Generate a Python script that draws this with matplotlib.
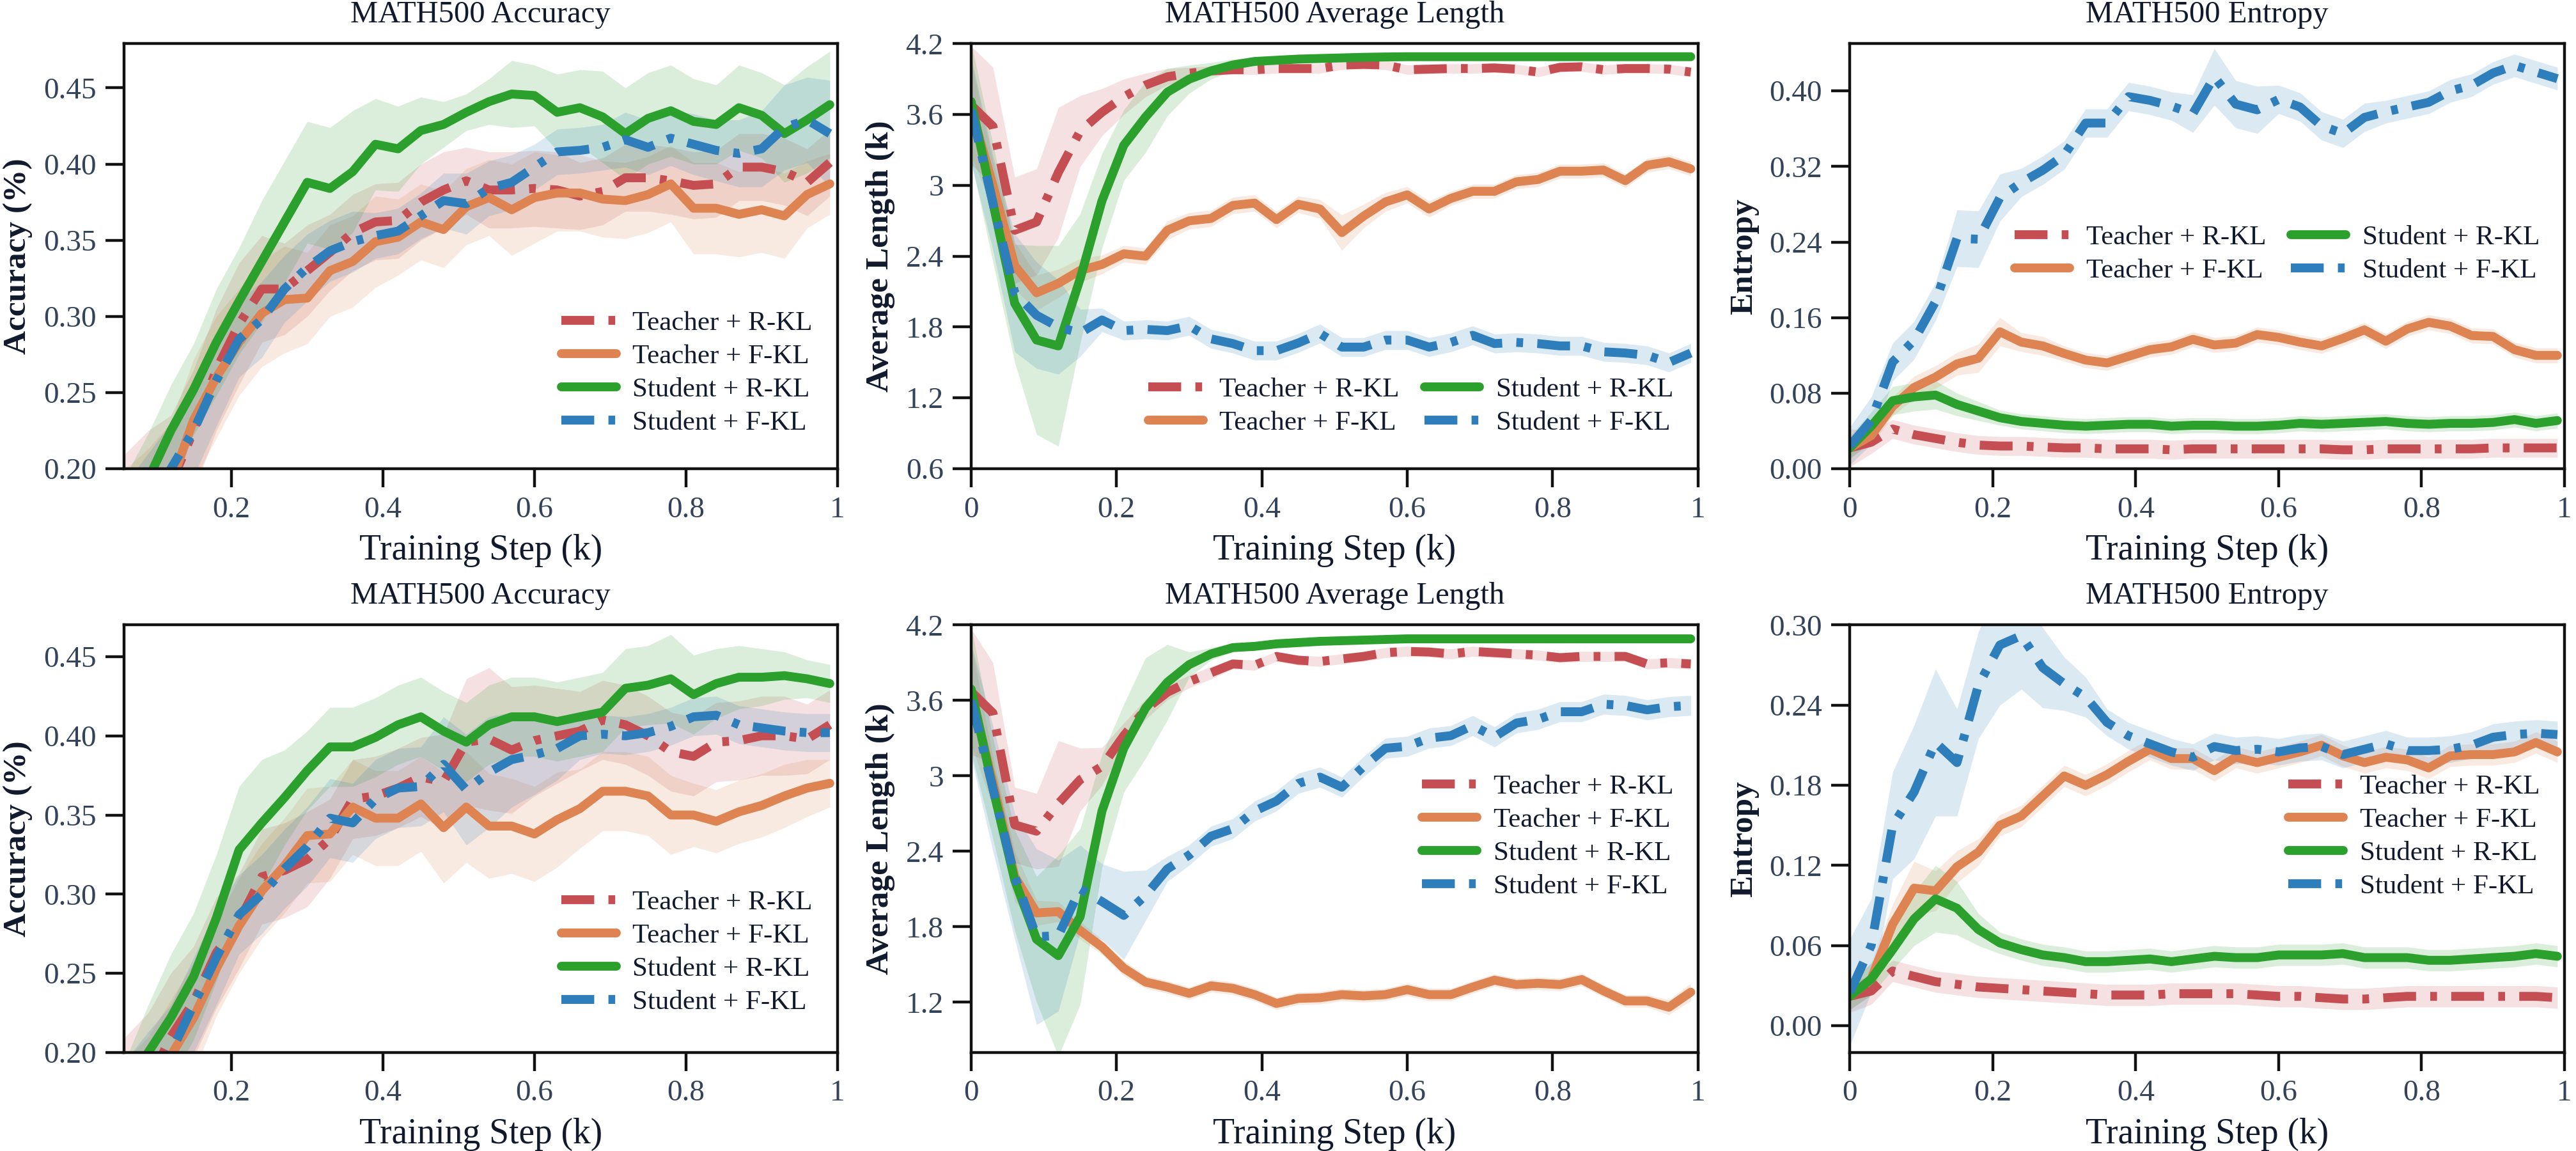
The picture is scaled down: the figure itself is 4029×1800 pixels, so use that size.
import matplotlib
matplotlib.use("Agg")
import matplotlib.pyplot as plt
from matplotlib.ticker import FuncFormatter

plt.rcParams["font.family"] = ["Liberation Serif", "DejaVu Serif"]

steps = [0, 0.03, 0.06, 0.09, 0.12, 0.15, 0.18, 0.21, 0.24, 0.27, 0.30, 0.33,
         0.36, 0.39, 0.42, 0.45, 0.48, 0.51, 0.54, 0.57, 0.60, 0.63, 0.66, 0.69,
         0.72, 0.75, 0.78, 0.81, 0.84, 0.87, 0.90, 0.93, 0.96, 0.99]

labels = ["Teacher + R-KL", "Teacher + F-KL", "Student + R-KL", "Student + F-KL"]

# ---- row 1 ----
acc1_t_rkl = [0.12, 0.14, 0.16, 0.175, 0.19, 0.225, 0.265, 0.295, 0.318, 0.318, 0.33, 0.342, 0.355, 0.362, 0.363, 0.375, 0.383, 0.389, 0.383, 0.383, 0.384, 0.383, 0.379, 0.382, 0.391, 0.391, 0.389, 0.386, 0.387, 0.398, 0.398, 0.395, 0.388, 0.401]
acc1_t_fkl = [0.11, 0.13, 0.15, 0.168, 0.19, 0.232, 0.26, 0.283, 0.302, 0.311, 0.312, 0.33, 0.336, 0.349, 0.352, 0.362, 0.357, 0.372, 0.378, 0.37, 0.378, 0.381, 0.381, 0.377, 0.376, 0.38, 0.387, 0.371, 0.371, 0.367, 0.37, 0.366, 0.38, 0.387]
acc1_s_rkl = [0.13, 0.15, 0.17, 0.193, 0.225, 0.252, 0.283, 0.31, 0.336, 0.362, 0.388, 0.384, 0.395, 0.413, 0.41, 0.422, 0.426, 0.434, 0.441, 0.446, 0.445, 0.434, 0.437, 0.431, 0.42, 0.43, 0.435, 0.428, 0.426, 0.437, 0.432, 0.42, 0.429, 0.439]
acc1_s_fkl = [0.12, 0.14, 0.155, 0.175, 0.2, 0.225, 0.258, 0.285, 0.298, 0.318, 0.332, 0.343, 0.349, 0.353, 0.356, 0.366, 0.376, 0.374, 0.384, 0.388, 0.398, 0.408, 0.409, 0.411, 0.416, 0.411, 0.417, 0.413, 0.409, 0.407, 0.41, 0.424, 0.429, 0.42]
acc1_t_rkl_sd = [0.05, 0.05, 0.05, 0.05, 0.045, 0.04, 0.04, 0.04, 0.035, 0.03, 0.03, 0.025, 0.025, 0.025, 0.025, 0.025, 0.025, 0.022, 0.025, 0.025, 0.025, 0.025, 0.022, 0.022, 0.022, 0.022, 0.022, 0.022, 0.022, 0.022, 0.022, 0.022, 0.022, 0.022]
acc1_t_fkl_sd = [0.05, 0.05, 0.05, 0.045, 0.04, 0.04, 0.04, 0.035, 0.035, 0.035, 0.03, 0.03, 0.03, 0.03, 0.025, 0.025, 0.025, 0.025, 0.025, 0.03, 0.03, 0.025, 0.025, 0.025, 0.025, 0.025, 0.025, 0.03, 0.03, 0.028, 0.028, 0.028, 0.022, 0.02]
acc1_s_rkl_sd = [0.02, 0.02, 0.025, 0.03, 0.03, 0.03, 0.035, 0.035, 0.04, 0.04, 0.04, 0.04, 0.04, 0.03, 0.028, 0.022, 0.015, 0.012, 0.015, 0.022, 0.02, 0.025, 0.025, 0.03, 0.03, 0.03, 0.03, 0.028, 0.026, 0.028, 0.028, 0.032, 0.035, 0.035]
acc1_s_fkl_sd = [0.04, 0.04, 0.035, 0.035, 0.03, 0.03, 0.03, 0.025, 0.025, 0.022, 0.022, 0.02, 0.02, 0.015, 0.015, 0.015, 0.018, 0.02, 0.018, 0.018, 0.015, 0.015, 0.015, 0.015, 0.018, 0.018, 0.018, 0.02, 0.02, 0.022, 0.025, 0.028, 0.028, 0.035]

len1_t_rkl = [3.68, 3.5, 2.62, 2.69, 3.11, 3.46, 3.62, 3.75, 3.85, 3.92, 3.95, 3.97, 3.98, 3.98, 3.99, 3.99, 3.99, 4.02, 4.025, 4.02, 3.98, 3.985, 3.99, 3.99, 3.995, 3.985, 3.96, 4.0, 4.005, 3.98, 3.99, 3.99, 3.985, 3.96]
len1_t_fkl = [3.65, 3.0, 2.32, 2.09, 2.17, 2.28, 2.33, 2.42, 2.4, 2.62, 2.7, 2.72, 2.83, 2.85, 2.71, 2.84, 2.8, 2.6, 2.74, 2.86, 2.92, 2.8, 2.89, 2.95, 2.95, 3.03, 3.05, 3.12, 3.12, 3.13, 3.04, 3.17, 3.2, 3.14]
len1_s_rkl = [3.71, 2.85, 2.0, 1.69, 1.64, 2.21, 2.87, 3.34, 3.58, 3.79, 3.9, 3.97, 4.02, 4.05, 4.06, 4.07, 4.075, 4.08, 4.085, 4.088, 4.09, 4.09, 4.09, 4.09, 4.09, 4.09, 4.09, 4.09, 4.09, 4.09, 4.09, 4.09, 4.09, 4.09]
len1_s_fkl = [3.64, 2.85, 2.09, 1.9, 1.8, 1.75, 1.86, 1.77, 1.78, 1.77, 1.81, 1.7, 1.66, 1.6, 1.6, 1.665, 1.745, 1.63, 1.63, 1.69, 1.69, 1.63, 1.67, 1.73, 1.66, 1.67, 1.66, 1.64, 1.64, 1.59, 1.58, 1.56, 1.5, 1.58]
len1_t_rkl_sd = [0.5, 0.5, 0.45, 0.45, 0.55, 0.3, 0.2, 0.15, 0.1, 0.07, 0.05, 0.04, 0.04, 0.04, 0.04, 0.04, 0.04, 0.04, 0.04, 0.04, 0.04, 0.04, 0.04, 0.04, 0.04, 0.04, 0.04, 0.04, 0.04, 0.04, 0.04, 0.04, 0.04, 0.04]
len1_t_fkl_sd = [0.4, 0.2, 0.2, 0.15, 0.12, 0.1, 0.08, 0.07, 0.07, 0.08, 0.07, 0.07, 0.07, 0.07, 0.07, 0.07, 0.08, 0.15, 0.1, 0.08, 0.07, 0.07, 0.06, 0.06, 0.06, 0.06, 0.06, 0.06, 0.06, 0.06, 0.06, 0.06, 0.06, 0.06]
len1_s_rkl_sd = [0.5, 0.5, 0.5, 0.8, 0.85, 0.55, 0.4, 0.3, 0.3, 0.2, 0.12, 0.07, 0.05, 0.03, 0.02, 0.02, 0.02, 0.02, 0.02, 0.02, 0.02, 0.02, 0.02, 0.02, 0.02, 0.02, 0.02, 0.02, 0.02, 0.02, 0.02, 0.02, 0.02, 0.02]
len1_s_fkl_sd = [0.45, 0.4, 0.5, 0.45, 0.4, 0.2, 0.1, 0.08, 0.08, 0.08, 0.08, 0.08, 0.08, 0.08, 0.08, 0.08, 0.08, 0.08, 0.08, 0.08, 0.08, 0.08, 0.08, 0.08, 0.08, 0.08, 0.08, 0.08, 0.08, 0.08, 0.08, 0.08, 0.08, 0.08]

ent1_t_rkl = [0.022, 0.028, 0.042, 0.036, 0.032, 0.028, 0.025, 0.024, 0.024, 0.023, 0.022, 0.022, 0.021, 0.021, 0.021, 0.02, 0.021, 0.021, 0.021, 0.021, 0.021, 0.021, 0.021, 0.02, 0.02, 0.021, 0.021, 0.021, 0.021, 0.021, 0.022, 0.022, 0.022, 0.022]
ent1_t_fkl = [0.022, 0.035, 0.066, 0.086, 0.097, 0.111, 0.117, 0.145, 0.134, 0.13, 0.122, 0.115, 0.112, 0.119, 0.126, 0.129, 0.137, 0.131, 0.133, 0.142, 0.139, 0.134, 0.13, 0.138, 0.147, 0.135, 0.148, 0.155, 0.151, 0.141, 0.14, 0.126, 0.12, 0.12]
ent1_s_rkl = [0.022, 0.045, 0.072, 0.076, 0.078, 0.068, 0.061, 0.054, 0.05, 0.048, 0.046, 0.045, 0.046, 0.047, 0.047, 0.045, 0.046, 0.046, 0.045, 0.045, 0.046, 0.048, 0.047, 0.048, 0.049, 0.05, 0.048, 0.047, 0.048, 0.048, 0.049, 0.052, 0.048, 0.051]
ent1_s_fkl = [0.024, 0.051, 0.113, 0.136, 0.177, 0.244, 0.243, 0.287, 0.303, 0.316, 0.332, 0.366, 0.366, 0.394, 0.39, 0.384, 0.376, 0.415, 0.386, 0.38, 0.391, 0.383, 0.363, 0.355, 0.372, 0.378, 0.383, 0.388, 0.4, 0.406, 0.419, 0.427, 0.42, 0.413]
ent1_t_rkl_sd = [0.02, 0.012, 0.01, 0.01, 0.01, 0.01, 0.01, 0.01, 0.01, 0.01, 0.01, 0.01, 0.01, 0.01, 0.01, 0.01, 0.01, 0.01, 0.01, 0.01, 0.01, 0.01, 0.01, 0.01, 0.01, 0.01, 0.01, 0.01, 0.01, 0.01, 0.01, 0.01, 0.01, 0.01]
ent1_t_fkl_sd = [0.01, 0.01, 0.01, 0.012, 0.012, 0.012, 0.015, 0.015, 0.01, 0.01, 0.008, 0.008, 0.008, 0.008, 0.008, 0.008, 0.008, 0.008, 0.008, 0.008, 0.008, 0.008, 0.008, 0.008, 0.008, 0.008, 0.008, 0.008, 0.008, 0.008, 0.008, 0.008, 0.008, 0.008]
ent1_s_rkl_sd = [0.012, 0.015, 0.015, 0.015, 0.015, 0.012, 0.01, 0.008, 0.008, 0.008, 0.008, 0.008, 0.008, 0.008, 0.008, 0.008, 0.008, 0.008, 0.008, 0.008, 0.008, 0.008, 0.008, 0.008, 0.008, 0.008, 0.008, 0.008, 0.008, 0.008, 0.008, 0.008, 0.008, 0.008]
ent1_s_fkl_sd = [0.02, 0.025, 0.02, 0.02, 0.02, 0.03, 0.03, 0.025, 0.015, 0.015, 0.015, 0.015, 0.015, 0.015, 0.015, 0.015, 0.02, 0.03, 0.025, 0.025, 0.015, 0.015, 0.015, 0.015, 0.015, 0.012, 0.012, 0.012, 0.012, 0.012, 0.012, 0.012, 0.012, 0.012]

# ---- row 2 ----
acc2_t_rkl = [0.12, 0.14, 0.16, 0.18, 0.21, 0.232, 0.263, 0.283, 0.311, 0.315, 0.322, 0.335, 0.36, 0.362, 0.367, 0.374, 0.371, 0.396, 0.398, 0.391, 0.397, 0.4, 0.403, 0.41, 0.407, 0.4, 0.39, 0.387, 0.396, 0.397, 0.4, 0.4, 0.398, 0.407]
acc2_t_fkl = [0.11, 0.13, 0.15, 0.17, 0.198, 0.222, 0.253, 0.28, 0.302, 0.318, 0.337, 0.338, 0.355, 0.348, 0.348, 0.357, 0.342, 0.355, 0.343, 0.343, 0.338, 0.347, 0.354, 0.365, 0.365, 0.362, 0.35, 0.35, 0.346, 0.352, 0.356, 0.362, 0.367, 0.37]
acc2_s_rkl = [0.13, 0.15, 0.17, 0.2, 0.222, 0.248, 0.285, 0.328, 0.345, 0.361, 0.378, 0.393, 0.393, 0.399, 0.407, 0.412, 0.403, 0.396, 0.407, 0.412, 0.412, 0.409, 0.412, 0.415, 0.43, 0.432, 0.436, 0.426, 0.433, 0.437, 0.437, 0.438, 0.436, 0.433]
acc2_s_fkl = [0.12, 0.14, 0.16, 0.178, 0.2, 0.23, 0.26, 0.287, 0.3, 0.316, 0.33, 0.348, 0.345, 0.36, 0.367, 0.368, 0.382, 0.366, 0.377, 0.385, 0.388, 0.392, 0.4, 0.401, 0.4, 0.402, 0.406, 0.412, 0.413, 0.407, 0.405, 0.403, 0.402, 0.402]
acc2_t_rkl_sd = [0.05, 0.05, 0.05, 0.045, 0.04, 0.035, 0.035, 0.03, 0.03, 0.03, 0.03, 0.025, 0.025, 0.025, 0.025, 0.025, 0.03, 0.04, 0.045, 0.04, 0.035, 0.03, 0.025, 0.025, 0.025, 0.025, 0.025, 0.025, 0.025, 0.025, 0.025, 0.025, 0.022, 0.022]
acc2_t_fkl_sd = [0.05, 0.05, 0.045, 0.04, 0.035, 0.035, 0.03, 0.03, 0.03, 0.03, 0.03, 0.03, 0.03, 0.03, 0.03, 0.03, 0.035, 0.035, 0.033, 0.03, 0.03, 0.03, 0.025, 0.025, 0.025, 0.025, 0.025, 0.02, 0.02, 0.02, 0.02, 0.02, 0.018, 0.015]
acc2_s_rkl_sd = [0.02, 0.025, 0.025, 0.03, 0.04, 0.04, 0.04, 0.04, 0.04, 0.03, 0.025, 0.025, 0.025, 0.025, 0.025, 0.025, 0.025, 0.025, 0.025, 0.025, 0.025, 0.025, 0.025, 0.025, 0.025, 0.025, 0.028, 0.025, 0.022, 0.02, 0.018, 0.015, 0.012, 0.012]
acc2_s_fkl_sd = [0.04, 0.04, 0.035, 0.035, 0.03, 0.03, 0.03, 0.025, 0.025, 0.025, 0.025, 0.025, 0.025, 0.025, 0.025, 0.025, 0.03, 0.035, 0.035, 0.03, 0.025, 0.02, 0.015, 0.012, 0.012, 0.012, 0.012, 0.012, 0.012, 0.012, 0.012, 0.012, 0.012, 0.012]

len2_t_rkl = [3.67, 3.5, 2.61, 2.56, 2.78, 2.97, 3.075, 3.32, 3.53, 3.665, 3.75, 3.82, 3.89, 3.88, 3.95, 3.92, 3.91, 3.93, 3.95, 3.98, 3.99, 3.985, 3.97, 3.99, 3.98, 3.97, 3.96, 3.94, 3.95, 3.95, 3.95, 3.89, 3.9, 3.89]
len2_t_fkl = [3.65, 2.95, 2.2, 1.91, 1.92, 1.77, 1.64, 1.47, 1.36, 1.32, 1.27, 1.33, 1.31, 1.26, 1.19, 1.23, 1.235, 1.26, 1.25, 1.26, 1.3, 1.26, 1.26, 1.32, 1.375, 1.34, 1.35, 1.34, 1.38, 1.29, 1.21, 1.21, 1.16, 1.28]
len2_s_rkl = [3.69, 2.9, 2.17, 1.7, 1.57, 1.88, 2.72, 3.22, 3.54, 3.745, 3.885, 3.97, 4.02, 4.03, 4.05, 4.06, 4.07, 4.075, 4.08, 4.085, 4.09, 4.09, 4.09, 4.09, 4.09, 4.09, 4.09, 4.09, 4.09, 4.09, 4.09, 4.09, 4.09, 4.09]
len2_s_fkl = [3.6, 2.9, 2.2, 1.72, 1.73, 2.1, 2.0, 1.89, 2.05, 2.26, 2.37, 2.52, 2.58, 2.72, 2.8, 2.94, 2.99, 2.91, 3.075, 3.22, 3.235, 3.3, 3.32, 3.4, 3.31, 3.42, 3.45, 3.51, 3.51, 3.57, 3.56, 3.525, 3.55, 3.56]
len2_t_rkl_sd = [0.5, 0.4, 0.3, 0.3, 0.5, 0.25, 0.15, 0.1, 0.08, 0.06, 0.05, 0.05, 0.04, 0.04, 0.04, 0.04, 0.04, 0.04, 0.04, 0.04, 0.04, 0.04, 0.04, 0.04, 0.04, 0.04, 0.04, 0.04, 0.04, 0.04, 0.04, 0.04, 0.04, 0.04]
len2_t_fkl_sd = [0.4, 0.2, 0.2, 0.1, 0.08, 0.07, 0.06, 0.06, 0.05, 0.05, 0.05, 0.05, 0.05, 0.05, 0.05, 0.05, 0.05, 0.05, 0.05, 0.05, 0.05, 0.05, 0.05, 0.05, 0.05, 0.05, 0.05, 0.05, 0.05, 0.05, 0.05, 0.05, 0.06, 0.07]
len2_s_rkl_sd = [0.5, 0.4, 0.4, 0.5, 0.8, 0.7, 0.45, 0.35, 0.4, 0.3, 0.1, 0.05, 0.03, 0.02, 0.02, 0.02, 0.02, 0.02, 0.02, 0.02, 0.02, 0.02, 0.02, 0.02, 0.02, 0.02, 0.02, 0.02, 0.02, 0.02, 0.02, 0.02, 0.02, 0.02]
len2_s_fkl_sd = [0.45, 0.5, 0.5, 0.7, 0.6, 0.35, 0.3, 0.35, 0.2, 0.1, 0.08, 0.08, 0.08, 0.08, 0.08, 0.08, 0.08, 0.08, 0.08, 0.08, 0.08, 0.08, 0.08, 0.08, 0.08, 0.08, 0.08, 0.08, 0.08, 0.08, 0.08, 0.08, 0.08, 0.08]

ent2_t_rkl = [0.022, 0.026, 0.041, 0.037, 0.033, 0.031, 0.029, 0.028, 0.027, 0.026, 0.025, 0.024, 0.023, 0.023, 0.023, 0.024, 0.024, 0.024, 0.024, 0.023, 0.022, 0.022, 0.021, 0.02, 0.02, 0.021, 0.022, 0.022, 0.022, 0.022, 0.022, 0.022, 0.022, 0.021]
ent2_t_fkl = [0.022, 0.035, 0.076, 0.103, 0.101, 0.119, 0.13, 0.15, 0.157, 0.172, 0.187, 0.18, 0.188, 0.198, 0.207, 0.2, 0.2, 0.191, 0.201, 0.197, 0.201, 0.205, 0.21, 0.202, 0.197, 0.201, 0.199, 0.193, 0.202, 0.203, 0.203, 0.205, 0.212, 0.205]
ent2_s_rkl = [0.022, 0.035, 0.057, 0.08, 0.095, 0.088, 0.072, 0.062, 0.057, 0.053, 0.051, 0.048, 0.048, 0.049, 0.05, 0.048, 0.05, 0.052, 0.051, 0.051, 0.053, 0.053, 0.053, 0.054, 0.051, 0.051, 0.051, 0.049, 0.049, 0.05, 0.051, 0.052, 0.054, 0.052]
ent2_s_fkl = [0.025, 0.06, 0.15, 0.175, 0.212, 0.197, 0.255, 0.285, 0.292, 0.268, 0.256, 0.246, 0.227, 0.217, 0.211, 0.205, 0.201, 0.209, 0.206, 0.207, 0.205, 0.208, 0.209, 0.203, 0.207, 0.211, 0.206, 0.206, 0.207, 0.21, 0.216, 0.218, 0.219, 0.218]
ent2_t_rkl_sd = [0.012, 0.01, 0.008, 0.008, 0.008, 0.008, 0.008, 0.008, 0.008, 0.008, 0.008, 0.008, 0.008, 0.008, 0.008, 0.008, 0.008, 0.008, 0.008, 0.008, 0.008, 0.008, 0.008, 0.008, 0.008, 0.008, 0.008, 0.008, 0.008, 0.008, 0.008, 0.008, 0.008, 0.008]
ent2_t_fkl_sd = [0.01, 0.012, 0.015, 0.02, 0.015, 0.012, 0.01, 0.008, 0.008, 0.008, 0.008, 0.008, 0.008, 0.008, 0.008, 0.008, 0.008, 0.008, 0.008, 0.008, 0.008, 0.008, 0.008, 0.008, 0.008, 0.008, 0.008, 0.008, 0.008, 0.008, 0.008, 0.008, 0.008, 0.008]
ent2_s_rkl_sd = [0.01, 0.012, 0.015, 0.02, 0.025, 0.02, 0.012, 0.008, 0.008, 0.008, 0.008, 0.008, 0.008, 0.008, 0.008, 0.008, 0.008, 0.008, 0.008, 0.008, 0.008, 0.008, 0.008, 0.008, 0.008, 0.008, 0.008, 0.008, 0.008, 0.008, 0.008, 0.008, 0.008, 0.008]
ent2_s_fkl_sd = [0.04, 0.035, 0.04, 0.05, 0.055, 0.04, 0.04, 0.045, 0.04, 0.03, 0.02, 0.015, 0.01, 0.01, 0.01, 0.01, 0.01, 0.01, 0.01, 0.01, 0.01, 0.01, 0.01, 0.01, 0.01, 0.01, 0.01, 0.01, 0.01, 0.01, 0.01, 0.01, 0.01, 0.01]

colors = ["#c44e52", "#dd8452", "#2ca02c", "#2e7ebc"]
dashed = [True, False, False, True]
DASH = (3.7, 1.6, 0.76, 1.6)
TXT = "#111a2c"
TICK = "#33435a"

fig = plt.figure(figsize=(20.15, 9.0), dpi=200)

col_left = [0.0481, 0.3769, 0.7179]
col_width = [0.2769, 0.2821, 0.2774]
row_bottom = [0.5928, 0.0856]
row_height = [0.3692, 0.3714]


def panel(r, c, means, sds, title, ylabel, xlim, ylim, yticks, yfmt, leg):
    ax = fig.add_axes([col_left[c], row_bottom[r], col_width[c], row_height[r]])
    for m, s, col in zip(means, sds, colors):
        lo = [a - b for a, b in zip(m, s)]
        hi = [a + b for a, b in zip(m, s)]
        ax.fill_between(steps, lo, hi, color=col, alpha=0.17, linewidth=0)
    for m, col, lab, d in zip(means, colors, labels, dashed):
        if d:
            ax.plot(steps, m, color=col, lw=5, label=lab, dashes=DASH,
                    dash_capstyle="butt", solid_joinstyle="round")
        else:
            ax.plot(steps, m, color=col, lw=5, label=lab,
                    solid_capstyle="round", solid_joinstyle="round")
    ax.set_xlim(*xlim)
    ax.set_ylim(*ylim)
    ax.set_yticks(yticks)
    ax.set_xticks([t for t in [0, 0.2, 0.4, 0.6, 0.8, 1.0] if t >= xlim[0]])
    ax.xaxis.set_major_formatter(FuncFormatter(lambda v, p: f"{v:g}"))
    ax.yaxis.set_major_formatter(FuncFormatter(lambda v, p: yfmt(v)))
    for sp in ax.spines.values():
        sp.set_linewidth(1.6)
        sp.set_color("#111111")
    ax.tick_params(direction="out", length=10.5, width=1.6, pad=5,
                   labelsize=17, labelcolor=TICK, color="#111111")
    ax.set_title(title, fontsize=17.5, color=TXT, pad=12)
    ax.set_xlabel("Training Step (k)", fontsize=20, color=TXT, labelpad=6)
    ax.set_ylabel(ylabel, fontsize=18.5, fontweight="bold", color=TXT, labelpad=6)
    lg = ax.legend(loc=leg[0], bbox_to_anchor=leg[1], ncol=leg[2], frameon=False,
                   fontsize=15.5, handlelength=2.0, handletextpad=0.6,
                   labelspacing=0.3, columnspacing=0.9, borderaxespad=0.5)
    for t in lg.get_texts():
        t.set_color(TXT)
    return ax


two = lambda v: f"{v:.2f}"
gen = lambda v: f"{v:g}"

panel(0, 0, [acc1_t_rkl, acc1_t_fkl, acc1_s_rkl, acc1_s_fkl],
      [acc1_t_rkl_sd, acc1_t_fkl_sd, acc1_s_rkl_sd, acc1_s_fkl_sd],
      "MATH500 Accuracy", "Accuracy (%)", (0.058, 1.0), (0.2, 0.479),
      [0.20, 0.25, 0.30, 0.35, 0.40, 0.45], two, ("lower right", (1.0, 0.02), 1))
panel(0, 1, [len1_t_rkl, len1_t_fkl, len1_s_rkl, len1_s_fkl],
      [len1_t_rkl_sd, len1_t_fkl_sd, len1_s_rkl_sd, len1_s_fkl_sd],
      "MATH500 Average Length", "Average Length (k)", (0, 1.0), (0.6, 4.2),
      [0.6, 1.2, 1.8, 2.4, 3.0, 3.6, 4.2], gen, ("lower right", (1.0, 0.02), 2))
panel(0, 2, [ent1_t_rkl, ent1_t_fkl, ent1_s_rkl, ent1_s_fkl],
      [ent1_t_rkl_sd, ent1_t_fkl_sd, ent1_s_rkl_sd, ent1_s_fkl_sd],
      "MATH500 Entropy", "Entropy", (0, 1.0), (0.0, 0.45),
      [0.0, 0.08, 0.16, 0.24, 0.32, 0.40], two, ("center right", (1.0, 0.505), 2))
panel(1, 0, [acc2_t_rkl, acc2_t_fkl, acc2_s_rkl, acc2_s_fkl],
      [acc2_t_rkl_sd, acc2_t_fkl_sd, acc2_s_rkl_sd, acc2_s_fkl_sd],
      "MATH500 Accuracy", "Accuracy (%)", (0.058, 1.0), (0.2, 0.47),
      [0.20, 0.25, 0.30, 0.35, 0.40, 0.45], two, ("lower right", (1.0, 0.03), 1))
panel(1, 1, [len2_t_rkl, len2_t_fkl, len2_s_rkl, len2_s_fkl],
      [len2_t_rkl_sd, len2_t_fkl_sd, len2_s_rkl_sd, len2_s_fkl_sd],
      "MATH500 Average Length", "Average Length (k)", (0, 1.0), (0.8, 4.2),
      [1.2, 1.8, 2.4, 3.0, 3.6, 4.2], gen, ("center right", (1.0, 0.505), 1))
panel(1, 2, [ent2_t_rkl, ent2_t_fkl, ent2_s_rkl, ent2_s_fkl],
      [ent2_t_rkl_sd, ent2_t_fkl_sd, ent2_s_rkl_sd, ent2_s_fkl_sd],
      "MATH500 Entropy", "Entropy", (0, 1.0), (-0.02, 0.30),
      [0.0, 0.06, 0.12, 0.18, 0.24, 0.30], two, ("center right", (1.0, 0.505), 1))

fig.savefig("out.png", dpi=200)
